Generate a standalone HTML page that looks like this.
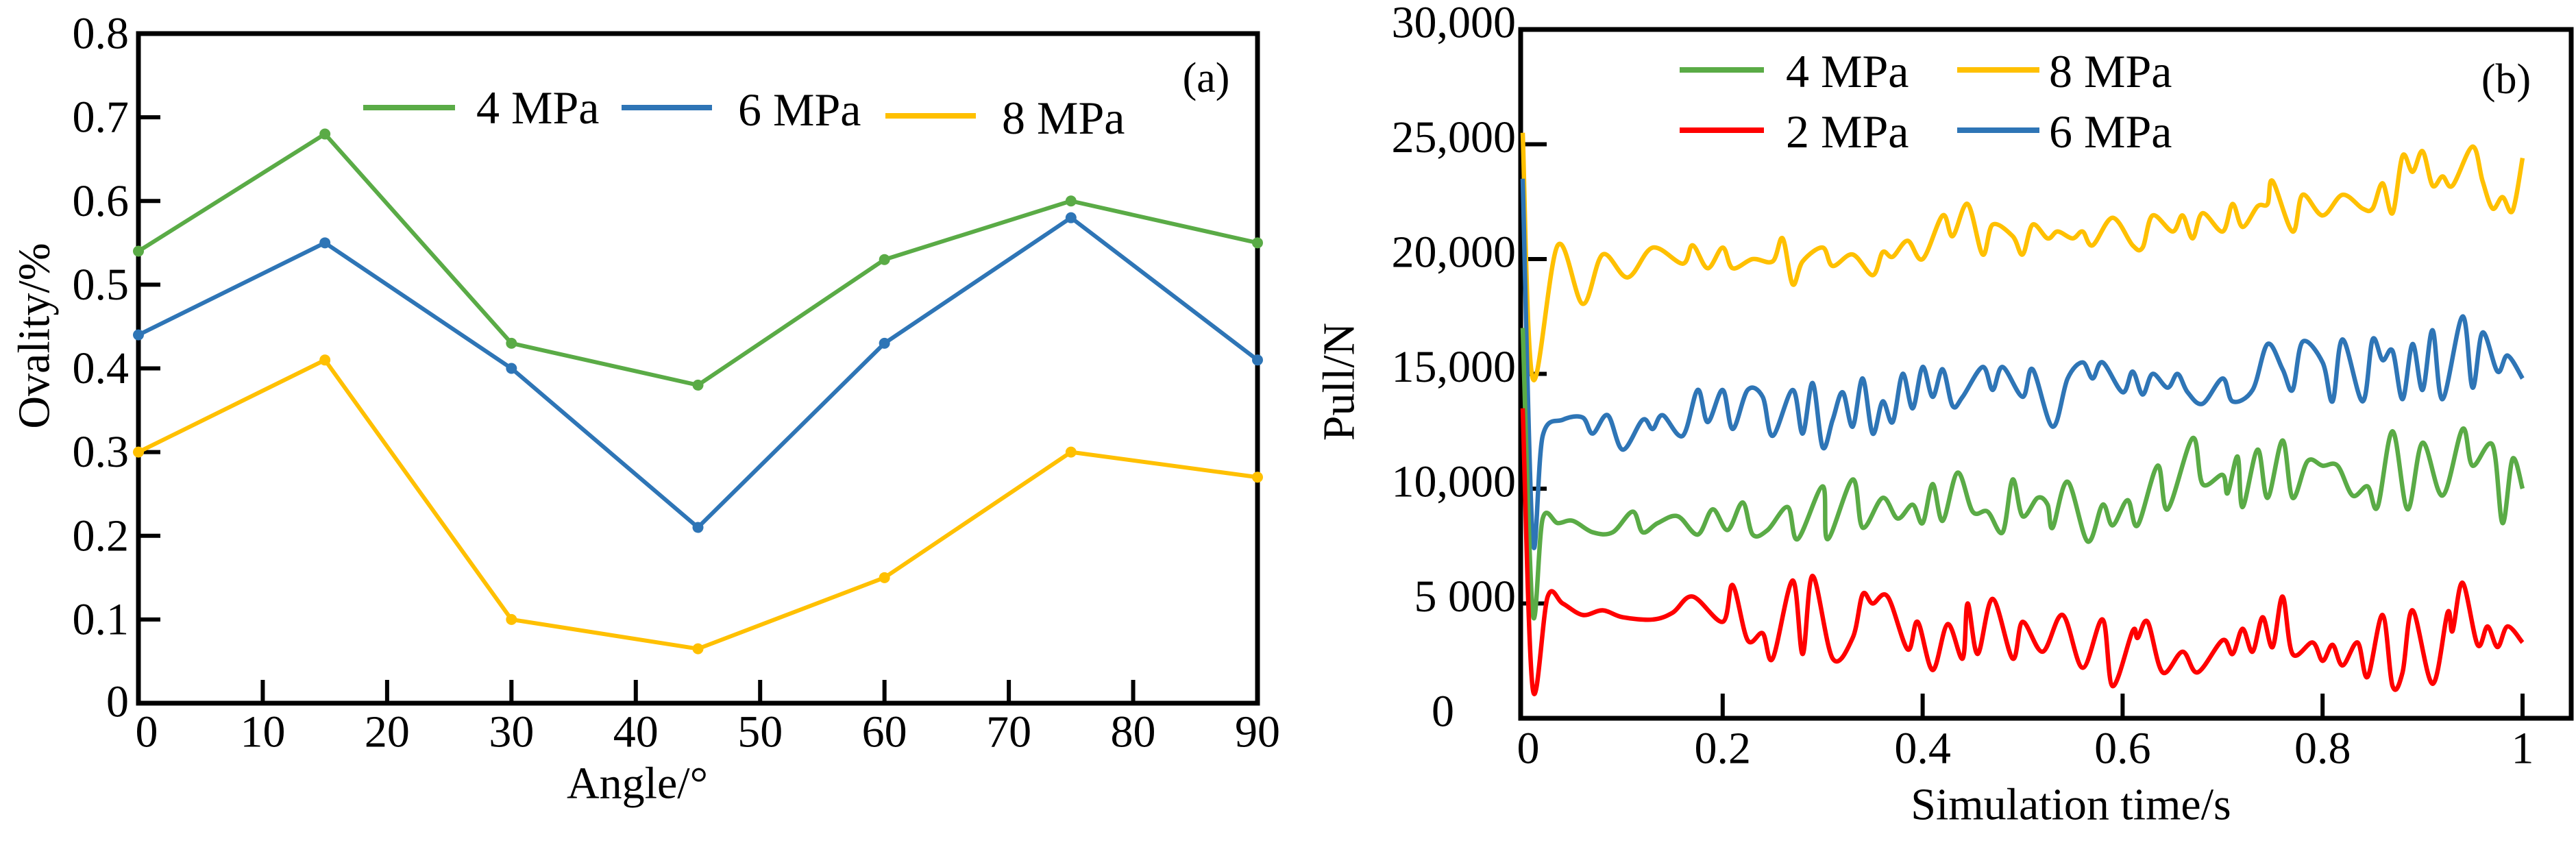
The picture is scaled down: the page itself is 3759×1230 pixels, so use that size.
<!DOCTYPE html>
<html><head><meta charset="utf-8">
<style>
html,body{margin:0;padding:0;background:#fff;}
svg{display:block;font-family:"Liberation Serif",serif;}
</style></head>
<body>
<svg id="chart" width="3759" height="1230" viewBox="0 0 3759 1230" xmlns="http://www.w3.org/2000/svg">
<g id="pa"></g>
<g id="pb"></g>
</svg>
<script>
// Panel (a) data
const anglesA = [0, 15, 30, 45, 60, 75, 90];
const ov4 = [0.54, 0.68, 0.43, 0.38, 0.53, 0.60, 0.55];
const ov6 = [0.44, 0.55, 0.40, 0.21, 0.43, 0.58, 0.41];
const ov8 = [0.30, 0.41, 0.10, 0.065, 0.15, 0.30, 0.27];
const xTicksA = [0, 10, 20, 30, 40, 50, 60, 70, 80, 90];
const yTicksA = [0, 0.1, 0.2, 0.3, 0.4, 0.5, 0.6, 0.7, 0.8];
const yTickLabelsA = ["0", "0.1", "0.2", "0.3", "0.4", "0.5", "0.6", "0.7", "0.8"];

// Panel (b) data
const tY = [0,0.01,0.035,0.06,0.08,0.105,0.13,0.16,0.17,0.185,0.2,0.21,0.23,0.25,0.26,0.27,0.28,0.3,0.31,0.33,0.35,0.36,0.37,0.385,0.4,0.42,0.43,0.445,0.46,0.47,0.49,0.5,0.51,0.525,0.535,0.55,0.56,0.57,0.59,0.61,0.62,0.63,0.65,0.66,0.67,0.68,0.7,0.71,0.72,0.735,0.745,0.75,0.77,0.78,0.8,0.82,0.84,0.85,0.86,0.87,0.88,0.89,0.9,0.91,0.92,0.93,0.95,0.96,0.97,0.98,0.99,1.0];
const p8 = [25500,14800,20600,18050,20200,19200,20500,19800,20600,19600,20500,19600,20000,19900,20900,18900,19900,20500,19700,20200,19300,20300,20100,20800,20000,21900,21000,22400,20200,21500,21000,20200,21500,20900,21200,20900,21200,20600,21800,20600,20500,21900,21200,21900,20900,22000,21200,22400,21400,22300,22400,23400,21200,22800,21900,22800,22200,22200,23300,22000,24500,23800,24700,23200,23600,23200,24900,23400,22200,22700,22100,24400];
const tB = [0,0.01,0.02,0.04,0.06,0.07,0.085,0.1,0.12,0.13,0.14,0.16,0.175,0.185,0.2,0.21,0.225,0.24,0.25,0.27,0.28,0.29,0.3,0.31,0.32,0.33,0.34,0.35,0.36,0.37,0.38,0.39,0.4,0.41,0.42,0.43,0.44,0.46,0.47,0.48,0.5,0.51,0.53,0.545,0.56,0.57,0.58,0.6,0.61,0.62,0.63,0.645,0.655,0.665,0.68,0.7,0.71,0.73,0.745,0.76,0.77,0.78,0.8,0.81,0.82,0.84,0.85,0.86,0.87,0.88,0.89,0.9,0.91,0.92,0.94,0.95,0.96,0.975,0.985,1.0];
const p6 = [23500,7800,12300,13000,13100,12400,13200,11700,13000,12600,13200,12300,14300,12900,14300,12600,14300,14000,12300,14300,12400,14600,11800,13000,14200,12700,14800,12400,13800,12900,15000,13500,15300,14000,15200,13600,14000,15300,14300,15300,14000,15200,12700,14800,15500,14800,15500,14200,15100,14100,15000,14400,15000,14200,13700,14800,13800,14300,16300,15200,14300,16400,15500,13800,16500,13800,16500,15600,16000,13900,16300,14300,16900,13900,17500,14400,16800,15100,15800,14800];
const tG = [0,0.01,0.02,0.035,0.05,0.07,0.09,0.11,0.12,0.135,0.155,0.175,0.19,0.205,0.22,0.23,0.245,0.265,0.275,0.3,0.305,0.33,0.34,0.36,0.375,0.39,0.4,0.41,0.42,0.435,0.45,0.465,0.48,0.49,0.5,0.515,0.525,0.53,0.545,0.565,0.58,0.59,0.605,0.615,0.635,0.645,0.67,0.68,0.7,0.705,0.715,0.72,0.735,0.745,0.76,0.77,0.785,0.8,0.815,0.83,0.845,0.855,0.87,0.885,0.9,0.92,0.94,0.95,0.97,0.98,0.99,1.0];
const p4 = [17000,4600,8700,8500,8600,8100,8100,9000,8100,8500,8800,8000,9100,8200,9400,8000,8200,9200,7800,10100,7800,10400,8300,9600,8700,9300,8500,10200,8600,10700,9000,9000,8100,10400,8800,9600,9300,8300,10300,7700,9300,8400,9500,8400,11000,9100,12200,10200,10600,9800,11400,9200,11700,9600,12100,9600,11200,11000,11000,9700,10100,9200,12500,9100,12000,9700,12600,11000,11900,8500,11300,10000];
const tR = [0,0.01,0.025,0.04,0.06,0.08,0.1,0.13,0.15,0.17,0.2,0.21,0.225,0.24,0.25,0.27,0.28,0.29,0.31,0.33,0.34,0.35,0.365,0.385,0.395,0.41,0.425,0.44,0.445,0.455,0.47,0.49,0.5,0.52,0.54,0.56,0.58,0.59,0.61,0.615,0.625,0.64,0.66,0.675,0.7,0.71,0.72,0.73,0.74,0.75,0.76,0.77,0.79,0.8,0.81,0.82,0.835,0.845,0.86,0.87,0.88,0.89,0.91,0.925,0.93,0.94,0.955,0.965,0.975,0.985,1.0];
const p2 = [13500,1300,5300,5000,4500,4700,4400,4300,4600,5300,4200,5800,3400,3700,2600,6000,2800,6200,2600,3500,5400,5000,5300,3000,4200,2100,4100,2600,5000,2800,5200,2600,4200,2900,4500,2200,4300,1400,3800,3500,4200,2000,2900,2000,3400,2800,3900,2900,4400,3100,5300,2800,3300,2500,3200,2300,3300,1800,4500,1400,2000,4700,1500,4600,3800,5900,3200,4000,3100,4000,3300];
const xTicksB = [0, 0.2, 0.4, 0.6, 0.8, 1];
const xTickLabelsB = ["0", "0.2", "0.4", "0.6", "0.8", "1"];
const yTicksB = [0, 5000, 10000, 15000, 20000, 25000, 30000];
const yTickLabelsB = ["0", "5 000", "10,000", "15,000", "20,000", "25,000", "30,000"];

const NS = "http://www.w3.org/2000/svg";
const GREEN = "#5aab46", BLUE = "#2e75b6", YEL = "#ffc000", RED = "#ff0000";
function mk(tag, attrs, parent) {
  const e = document.createElementNS(NS, tag);
  for (const k in attrs) e.setAttribute(k, attrs[k]);
  parent.appendChild(e);
  return e;
}
function txt(s, x, y, size, anchor, parent) {
  const t = mk("text", {x: x, y: y, "font-size": size, "text-anchor": anchor, fill: "#000", "dominant-baseline": "central"}, parent);
  t.textContent = s;
  return t;
}

// ---------- Panel (a) ----------
const A = {l: 202, r: 1835, t: 49, b: 1026};
const xa = v => A.l + (v - 0) / 90 * (A.r - A.l);
const ya = v => A.b - v / 0.8 * (A.b - A.t);
const pa = document.getElementById("pa");
const frameA = mk("rect", {x: A.l, y: A.t, width: A.r - A.l, height: A.b - A.t, fill: "none", stroke: "#000", "stroke-width": 7}, pa);


xTicksA.forEach((v, i) => {
  if (i > 0 && i < xTicksA.length - 1) {
    const tk = mk("line", {x1: xa(v), x2: xa(v), y1: A.b, y2: A.b - 34, stroke: "#000", "stroke-width": 6}, pa);
    
    
  }
  const lb = txt(String(v), xa(v) + (i === 0 ? 12 : 0), 1068, 66, "middle", pa);
  
  
});
yTicksA.forEach((v, i) => {
  if (i > 0 && i < yTicksA.length - 1) {
    const tk = mk("line", {x1: A.l, x2: A.l + 32, y1: ya(v), y2: ya(v), stroke: "#000", "stroke-width": 6}, pa);
    
    
  }
  const lb = txt(yTickLabelsA[i], 188, ya(v) + (i === 0 ? -2 : 0), 66, "end", pa);
  
  
});
const ytA = txt("Ovality/%", 0, 0, 66, "middle", pa);
ytA.setAttribute("transform", "translate(50,490) rotate(-90)");


const xtA = txt("Angle/°", 930, 1143, 66, "middle", pa);


const tagA = txt("(a)", 1760, 114, 62, "middle", pa);



[[ov4, GREEN, "series-4mpa-a"], [ov6, BLUE, "series-6mpa-a"], [ov8, YEL, "series-8mpa-a"]].forEach(s => {
  const g = mk("g", {}, pa);
  
  
  const pts = s[0].map((v, i) => xa(anglesA[i]) + "," + ya(v)).join(" ");
  const pl = mk("polyline", {points: pts, fill: "none", stroke: s[1], "stroke-width": 6, "stroke-linejoin": "round"}, g);
  
  
  s[0].forEach((v, i) => {
    const c = mk("circle", {cx: xa(anglesA[i]), cy: ya(v), r: 8, fill: s[1]}, g);
    
    
  });
});
// legend a
[[530, 664, 157, GREEN, "4 MPa", 695, 157], [907, 1039, 157, BLUE, "6 MPa", 1077, 160], [1292, 1424, 169, YEL, "8 MPa", 1462, 172]].forEach(l => {
  const g = mk("g", {}, pa);
  
  
  mk("line", {x1: l[0], x2: l[1], y1: l[2], y2: l[2], stroke: l[3], "stroke-width": 8}, g);
  txt(l[4], l[5], l[6], 68, "start", g);
});

// ---------- Panel (b) ----------
const B = {l: 2219, r: 3752, t: 43, b: 1048};
const X0 = 2222, X1 = 3681;
const xb = v => X0 + v * (X1 - X0);
const yb = v => B.b - v / 30000 * (B.b - B.t);
const pb = document.getElementById("pb");
const frameB = mk("rect", {x: B.l, y: B.t, width: B.r - B.l, height: B.b - B.t, fill: "none", stroke: "#000", "stroke-width": 7}, pb);


xTicksB.forEach((v, i) => {
  if (i > 0) {
    const tk = mk("line", {x1: xb(v), x2: xb(v), y1: B.b, y2: B.b - 36, stroke: "#000", "stroke-width": 6}, pb);
    
    
  }
  const lb = txt(xTickLabelsB[i], xb(v) + (i === 0 ? 8 : 0), 1092, 66, "middle", pb);
  
  
});
yTicksB.forEach((v, i) => {
  if (i > 0 && i < yTicksB.length - 1) {
    const tk = mk("line", {x1: B.l, x2: B.l + 38, y1: yb(v), y2: yb(v), stroke: "#000", "stroke-width": 6}, pb);
    
    
  }
  const lb = txt(yTickLabelsB[i], i === 0 ? 2122 : 2212, yb(v) - 10, 66, "end", pb);
  
  
});
const ytB = txt("Pull/N", 0, 0, 66, "middle", pb);
ytB.setAttribute("transform", "translate(1954,557) rotate(-90)");


const xtB = txt("Simulation time/s", 3022, 1174, 66, "middle", pb);


const tagB = txt("(b)", 3657, 116, 62, "middle", pb);



function smoothPath(xs, ys) {
  const P = xs.map((t, i) => [xb(t), yb(ys[i])]);
  let d = "M" + P[0][0] + "," + P[0][1];
  for (let i = 0; i < P.length - 1; i++) {
    const p0 = P[Math.max(0, i - 1)], p1 = P[i], p2 = P[i + 1], p3 = P[Math.min(P.length - 1, i + 2)];
    const k = 1 / 6;
    const c1x = p1[0] + (p2[0] - p0[0]) * k, c1y = p1[1] + (p2[1] - p0[1]) * k;
    const c2x = p2[0] - (p3[0] - p1[0]) * k, c2y = p2[1] - (p3[1] - p1[1]) * k;
    d += " C" + c1x + "," + c1y + " " + c2x + "," + c2y + " " + p2[0] + "," + p2[1];
  }
  return d;
}
[[tY, p8, YEL, "series-8mpa-b"], [tB, p6, BLUE, "series-6mpa-b"], [tG, p4, GREEN, "series-4mpa-b"], [tR, p2, RED, "series-2mpa-b"]].forEach(s => {
  const p = mk("path", {d: smoothPath(s[0], s[1]), fill: "none", stroke: s[2], "stroke-width": 6.5, "stroke-linejoin": "round"}, pb);
  
  
});
// legend b
[[2451, 2574, 102, GREEN, "4 MPa", 2606], [2856, 2976, 102, YEL, "8 MPa", 2990], [2451, 2574, 190, RED, "2 MPa", 2606], [2856, 2976, 190, BLUE, "6 MPa", 2990]].forEach(l => {
  const g = mk("g", {}, pb);
  
  
  mk("line", {x1: l[0], x2: l[1], y1: l[2], y2: l[2], stroke: l[3], "stroke-width": 8}, g);
  txt(l[4], l[5], l[2] + 2, 68, "start", g);
});
</script>
</body></html>
